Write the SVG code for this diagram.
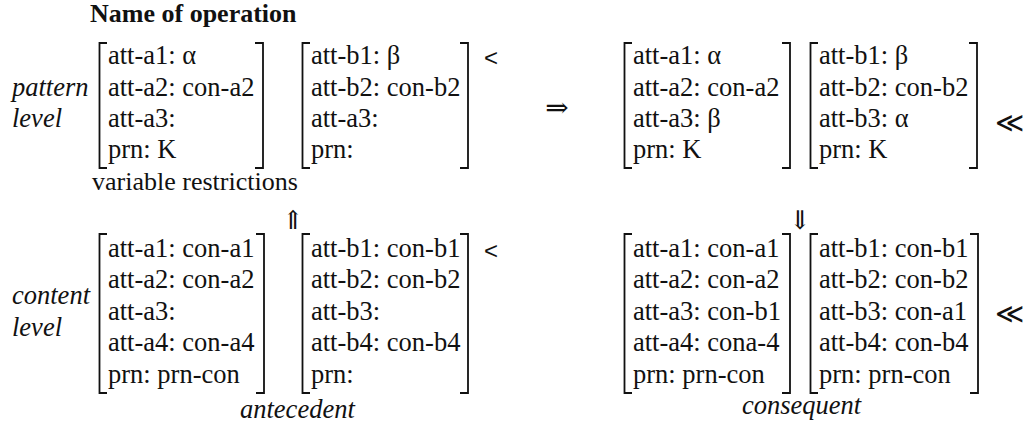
<svg xmlns="http://www.w3.org/2000/svg" width="1026" height="426" viewBox="0 0 1026 426">
<style>
text{fill:#111}
.br{fill:none;stroke:#111;stroke-width:1.8;stroke-linecap:butt}
</style>
<rect width="1026" height="426" fill="#fff"/>
<text x="90" y="22" font-family="Liberation Serif, serif" font-size="26" font-weight="bold">Name of operation</text>

<g id="labels">
<text x="12" y="96" font-family="Liberation Serif, serif" font-size="26.5" font-style="italic">pattern</text>
<text x="12" y="127" font-family="Liberation Serif, serif" font-size="26.5" font-style="italic">level</text>
<text x="12" y="304" font-family="Liberation Serif, serif" font-size="26.5" font-style="italic">content</text>
<text x="12" y="336" font-family="Liberation Serif, serif" font-size="26.5" font-style="italic">level</text>
<text x="92" y="190" font-family="Liberation Serif, serif" font-size="26">variable restrictions</text>
<text x="240" y="418" font-family="Liberation Serif, serif" font-size="26.5" font-style="italic">antecedent</text>
<text x="742" y="414" font-family="Liberation Serif, serif" font-size="26.5" font-style="italic">consequent</text>
</g>

<g id="pattern-a">
<path class="br" d="M107,43H99.5V168H107M255,43H263V168H255"/>
<text x="108" y="64" font-family="Liberation Serif, serif" font-size="26.5">att-a1: α</text>
<text x="108" y="96" font-family="Liberation Serif, serif" font-size="26.5">att-a2: con-a2</text>
<text x="108" y="127" font-family="Liberation Serif, serif" font-size="26.5">att-a3:</text>
<text x="108" y="158" font-family="Liberation Serif, serif" font-size="26.5">prn: K</text>
</g>
<g id="pattern-b">
<path class="br" d="M310,43H302.5V168H310M460,43H468V168H460"/>
<text x="311" y="64" font-family="Liberation Serif, serif" font-size="26.5">att-b1: β</text>
<text x="311" y="96" font-family="Liberation Serif, serif" font-size="26.5">att-b2: con-b2</text>
<text x="311" y="127" font-family="Liberation Serif, serif" font-size="26.5">att-a3:</text>
<text x="311" y="158" font-family="Liberation Serif, serif" font-size="26.5">prn:</text>
</g>

<g id="pattern-a2">
<path class="br" d="M632,43H624.5V168H632M782,43H790V168H782"/>
<text x="633" y="64" font-family="Liberation Serif, serif" font-size="26.5">att-a1: α</text>
<text x="633" y="96" font-family="Liberation Serif, serif" font-size="26.5">att-a2: con-a2</text>
<text x="633" y="127" font-family="Liberation Serif, serif" font-size="26.5">att-a3: β</text>
<text x="633" y="158" font-family="Liberation Serif, serif" font-size="26.5">prn: K</text>
</g>
<g id="pattern-b2">
<path class="br" d="M818,43H810.5V168H818M969,43H977V168H969"/>
<text x="819" y="64" font-family="Liberation Serif, serif" font-size="26.5">att-b1: β</text>
<text x="819" y="96" font-family="Liberation Serif, serif" font-size="26.5">att-b2: con-b2</text>
<text x="819" y="127" font-family="Liberation Serif, serif" font-size="26.5">att-b3: α</text>
<text x="819" y="158" font-family="Liberation Serif, serif" font-size="26.5">prn: K</text>
</g>

<g id="content-a">
<path class="br" d="M107,234H99.5V393H107M256,234H264V393H256"/>
<text x="108" y="257" font-family="Liberation Serif, serif" font-size="26.5">att-a1: con-a1</text>
<text x="108" y="288" font-family="Liberation Serif, serif" font-size="26.5">att-a2: con-a2</text>
<text x="108" y="320" font-family="Liberation Serif, serif" font-size="26.5">att-a3:</text>
<text x="108" y="351" font-family="Liberation Serif, serif" font-size="26.5">att-a4: con-a4</text>
<text x="108" y="383" font-family="Liberation Serif, serif" font-size="26.5">prn: prn-con</text>
</g>
<g id="content-b">
<path class="br" d="M310,234H302.5V393H310M460,234H468V393H460"/>
<text x="311" y="257" font-family="Liberation Serif, serif" font-size="26.5">att-b1: con-b1</text>
<text x="311" y="288" font-family="Liberation Serif, serif" font-size="26.5">att-b2: con-b2</text>
<text x="311" y="320" font-family="Liberation Serif, serif" font-size="26.5">att-b3:</text>
<text x="311" y="351" font-family="Liberation Serif, serif" font-size="26.5">att-b4: con-b4</text>
<text x="311" y="383" font-family="Liberation Serif, serif" font-size="26.5">prn:</text>
</g>

<g id="content-a2">
<path class="br" d="M632,234H624.5V393H632M782,234H790V393H782"/>
<text x="633" y="257" font-family="Liberation Serif, serif" font-size="26.5">att-a1: con-a1</text>
<text x="633" y="288" font-family="Liberation Serif, serif" font-size="26.5">att-a2: con-a2</text>
<text x="633" y="320" font-family="Liberation Serif, serif" font-size="26.5">att-a3: con-b1</text>
<text x="633" y="351" font-family="Liberation Serif, serif" font-size="26.5">att-a4: cona-4</text>
<text x="633" y="383" font-family="Liberation Serif, serif" font-size="26.5">prn: prn-con</text>
</g>
<g id="content-b2">
<path class="br" d="M818,234H810.5V393H818M970,234H978V393H970"/>
<text x="819" y="257" font-family="Liberation Serif, serif" font-size="26.5">att-b1: con-b1</text>
<text x="819" y="288" font-family="Liberation Serif, serif" font-size="26.5">att-b2: con-b2</text>
<text x="819" y="320" font-family="Liberation Serif, serif" font-size="26.5">att-b3: con-a1</text>
<text x="819" y="351" font-family="Liberation Serif, serif" font-size="26.5">att-b4: con-b4</text>
<text x="819" y="383" font-family="Liberation Serif, serif" font-size="26.5">prn: prn-con</text>
</g>

<g id="relations">
<text x="484" y="66" font-family="Liberation Sans, sans-serif" font-size="24">&lt;</text>
<text x="484" y="259" font-family="Liberation Sans, sans-serif" font-size="24">&lt;</text>
<text x="995" y="132" font-family="DejaVu Serif, serif" font-size="28">≪</text>
<text x="995" y="323" font-family="DejaVu Serif, serif" font-size="28">≪</text>
</g>

<g id="connectors">
<text x="557" y="117" font-family="DejaVu Serif, serif" font-size="28" text-anchor="middle">⇒</text>
<text x="293" y="229" font-family="DejaVu Serif, serif" font-size="26" text-anchor="middle">⇑</text>
<text x="800" y="229" font-family="DejaVu Serif, serif" font-size="26" text-anchor="middle">⇓</text>
</g>
</svg>
